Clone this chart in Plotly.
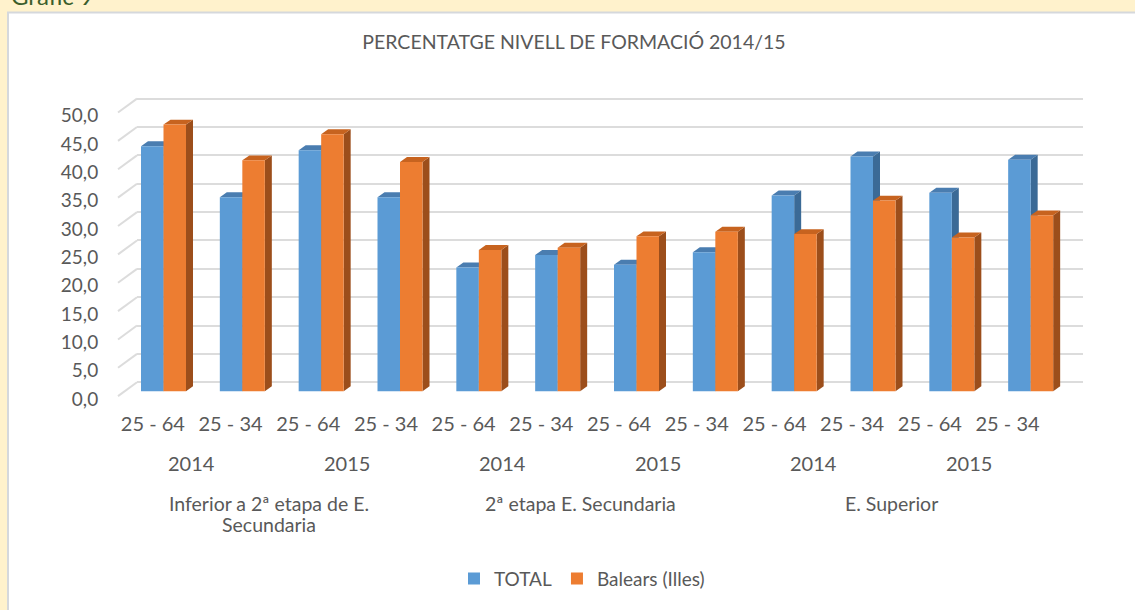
import plotly.graph_objects as go

# ---------------- data ----------------
age_labels = ["25 - 64", "25 - 34", "25 - 64", "25 - 34", "25 - 64", "25 - 34",
              "25 - 64", "25 - 34", "25 - 64", "25 - 34", "25 - 64", "25 - 34"]
year_labels = ["2014", "2015", "2014", "2015", "2014", "2015"]
level_labels = ["Inferior a 2ª etapa de E.<br>Secundaria", "2ª etapa E. Secundaria", "E. Superior"]
total = [43.2, 34.2, 42.5, 34.2, 21.8, 24.0, 22.3, 24.5, 34.5, 41.4, 35.0, 40.8]
balears = [47.0, 40.7, 45.3, 40.4, 24.9, 25.3, 27.3, 28.1, 27.7, 33.6, 27.1, 31.0]
y_ticks = [0, 5, 10, 15, 20, 25, 30, 35, 40, 45, 50]
y_tick_text = ["0,0", "5,0", "10,0", "15,0", "20,0", "25,0", "30,0", "35,0", "40,0", "45,0", "50,0"]
series_names = ["TOTAL", "Balears (Illes)"]

# ---------------- layout constants ----------------
W, H = 1135, 610
PXY = 5.72                          # pixels per y unit
ZERO_PX = 385                       # back-wall zero line (px from top)
Y_LO, Y_HI = -3.3, 51
ML, MR = 137, 52
MT = ZERO_PX - Y_HI * PXY
MB = H - (ZERO_PX - Y_LO * PXY)
PW, PH = W - ML - MR, H - MT - MB
N = len(age_labels)
PXX = PW / N                        # pixels per category
BAR_DROP = 9 / PXY                  # bars sit lower than the back wall
FRONT_DROP = 14 / PXY               # front plane lower still
LABEL_DROP = 17 / PXY               # y tick labels on the front plane
FRONT_DX = 19                       # front plane shift left (px)
DEPTH_DX, DEPTH_DY = 7 / PXX, 5 / PXY
BAR_W = 22.5 / PXX
BLUE_OFF = -0.5 + 4 / PXX
ORANGE_OFF = BLUE_OFF + BAR_W
FRONT_LEFT, FRONT_STEP = 114, 77.7  # front-plane label layout (px)

C_BLUE, C_BLUE_TOP, C_BLUE_SIDE = "#5B9BD5", "#4A7DB0", "#3B6A96"
C_OR, C_OR_TOP, C_OR_SIDE = "#ED7D31", "#C7631F", "#9C4E1B"
GRID = "#DCDCDC"
TXT = "#595959"
FONT = "Lato"


def px2paper_x(px):
    return (px - ML) / PW


def py2paper_y(py):
    return (H - MB - py) / PH


def front_x(i):
    px = FRONT_LEFT + (i + 0.5) * FRONT_STEP
    return (px - ML) / PXX - 0.5


xs = list(range(N))

fig = go.Figure()
fig.add_trace(go.Bar(x=xs, y=total, name=series_names[0], width=BAR_W, offset=BLUE_OFF,
                     marker=dict(color=C_BLUE, line=dict(width=0)), yaxis="y2"))
fig.add_trace(go.Bar(x=xs, y=balears, name=series_names[1], width=BAR_W, offset=ORANGE_OFF,
                     marker=dict(color=C_OR, line=dict(width=0)), yaxis="y2"))

shapes = []
# white chart box on yellow page
shapes.append(dict(type="rect", xref="paper", yref="paper",
                   x0=px2paper_x(8), x1=px2paper_x(W + 10),
                   y0=py2paper_y(H + 10), y1=py2paper_y(12),
                   fillcolor="white", line=dict(color="#D5D8DC", width=2), layer="below"))
# left wall diagonals of the gridlines
for v in y_ticks:
    shapes.append(dict(type="line", xref="paper", yref="y",
                       x0=0, x1=-FRONT_DX / PW, y0=v, y1=v - FRONT_DROP,
                       line=dict(color=GRID, width=2), layer="below"))


def top_path(xl, v):
    # bar value v expressed on the back-wall axis y (bars drop by BAR_DROP)
    b = -BAR_DROP
    xr = xl + BAR_W
    return (f"M {xl},{v + b} L {xr},{v + b} L {xr + DEPTH_DX},{v + b + DEPTH_DY} "
            f"L {xl + DEPTH_DX},{v + b + DEPTH_DY} Z")


def side_path(xl, v):
    b = -BAR_DROP
    xr = xl + BAR_W
    return (f"M {xr},{b} L {xr},{v + b} L {xr + DEPTH_DX},{v + b + DEPTH_DY} "
            f"L {xr + DEPTH_DX},{b + DEPTH_DY} Z")


for i, v in enumerate(total):
    xl = i + BLUE_OFF
    shapes.append(dict(type="path", xref="x", yref="y", path=top_path(xl, v),
                       fillcolor=C_BLUE_TOP, line=dict(width=0), layer="between"))
    shapes.append(dict(type="path", xref="x", yref="y", path=side_path(xl, v),
                       fillcolor=C_BLUE_SIDE, line=dict(width=0), layer="between"))
for i, v in enumerate(balears):
    xl = i + ORANGE_OFF
    shapes.append(dict(type="path", xref="x", yref="y", path=side_path(xl, v),
                       fillcolor=C_OR_SIDE, line=dict(width=0), layer="between"))
    shapes.append(dict(type="path", xref="x", yref="y", path=top_path(xl, v),
                       fillcolor=C_OR_TOP, line=dict(width=0), layer="between"))

annotations = []
# year row
for k, yl in enumerate(year_labels):
    xc = (front_x(2 * k) + front_x(2 * k + 1)) / 2
    annotations.append(dict(text=yl, x=xc, xref="x", y=py2paper_y(466), yref="paper",
                            showarrow=False, xanchor="center", yanchor="middle",
                            font=dict(family=FONT, size=20, color=TXT)))
# level row (each text line placed separately for tight line spacing)
for k, ll in enumerate(level_labels):
    xc = (front_x(4 * k) + front_x(4 * k + 3)) / 2
    for j, line in enumerate(ll.split("<br>")):
        annotations.append(dict(text=line, x=xc, xref="x", y=py2paper_y(507 + 21 * j),
                                yref="paper", showarrow=False, xanchor="center",
                                yanchor="middle",
                                font=dict(family=FONT, size=19.5, color=TXT)))
# cropped heading at the top-left
annotations.append(dict(text="Gràfic 9", x=px2paper_x(9), xref="paper", y=py2paper_y(12),
                        yref="paper", showarrow=False, xanchor="left", yanchor="bottom",
                        font=dict(family=FONT, size=24, color="#3B5E2B")))

fig.update_layout(
    width=W, height=H,
    margin=dict(l=ML, r=MR, t=MT, b=MB),
    paper_bgcolor="#FFF2CC",
    plot_bgcolor="rgba(0,0,0,0)",
    barmode="overlay",
    showlegend=True,
    title=dict(text="PERCENTATGE NIVELL DE FORMACIÓ 2014/15", xref="paper",
               x=px2paper_x(574), xanchor="center", yref="container",
               y=1 - 42 / H, yanchor="middle",
               font=dict(family=FONT, size=19.5, color=TXT)),
    legend=dict(orientation="h", x=px2paper_x(582), xanchor="center",
                y=py2paper_y(583), yanchor="middle", itemwidth=30,
                font=dict(family=FONT, size=19, color=TXT),
                bgcolor="rgba(0,0,0,0)"),
    xaxis=dict(range=[-0.5, N - 0.5], tickmode="array",
               tickvals=[front_x(i) for i in range(N)], ticktext=age_labels,
               ticks="outside", ticklen=5, tickcolor="rgba(0,0,0,0)",
               showgrid=False, zeroline=False, showline=False,
               tickfont=dict(family=FONT, size=20, color=TXT), fixedrange=True),
    yaxis=dict(range=[Y_LO, Y_HI], tickmode="array", tickvals=y_ticks,
               showticklabels=False, showgrid=True, gridcolor=GRID, gridwidth=2,
               zeroline=False, showline=False, fixedrange=True),
    yaxis2=dict(range=[Y_LO + BAR_DROP, Y_HI + BAR_DROP], overlaying="y",
                showgrid=False, showticklabels=False, zeroline=False, fixedrange=True),
    yaxis3=dict(range=[Y_LO + LABEL_DROP, Y_HI + LABEL_DROP], overlaying="y", side="left",
                tickmode="array", tickvals=y_ticks, ticktext=y_tick_text,
                ticks="outside", ticklen=34, tickcolor="rgba(0,0,0,0)",
                showgrid=False, zeroline=False, showline=False,
                tickfont=dict(family=FONT, size=19, color=TXT), fixedrange=True),
    shapes=shapes,
    annotations=annotations,
)
# make yaxis3 visible by attaching an invisible trace
fig.add_trace(go.Scatter(x=[0], y=[0], yaxis="y3", mode="markers",
                         marker=dict(opacity=0), showlegend=False, hoverinfo="skip"))

fig.write_html("out.html", config={"displayModeBar": False},
               post_script="document.body.style.margin='0px';"
                           "document.body.style.overflow='hidden';")
